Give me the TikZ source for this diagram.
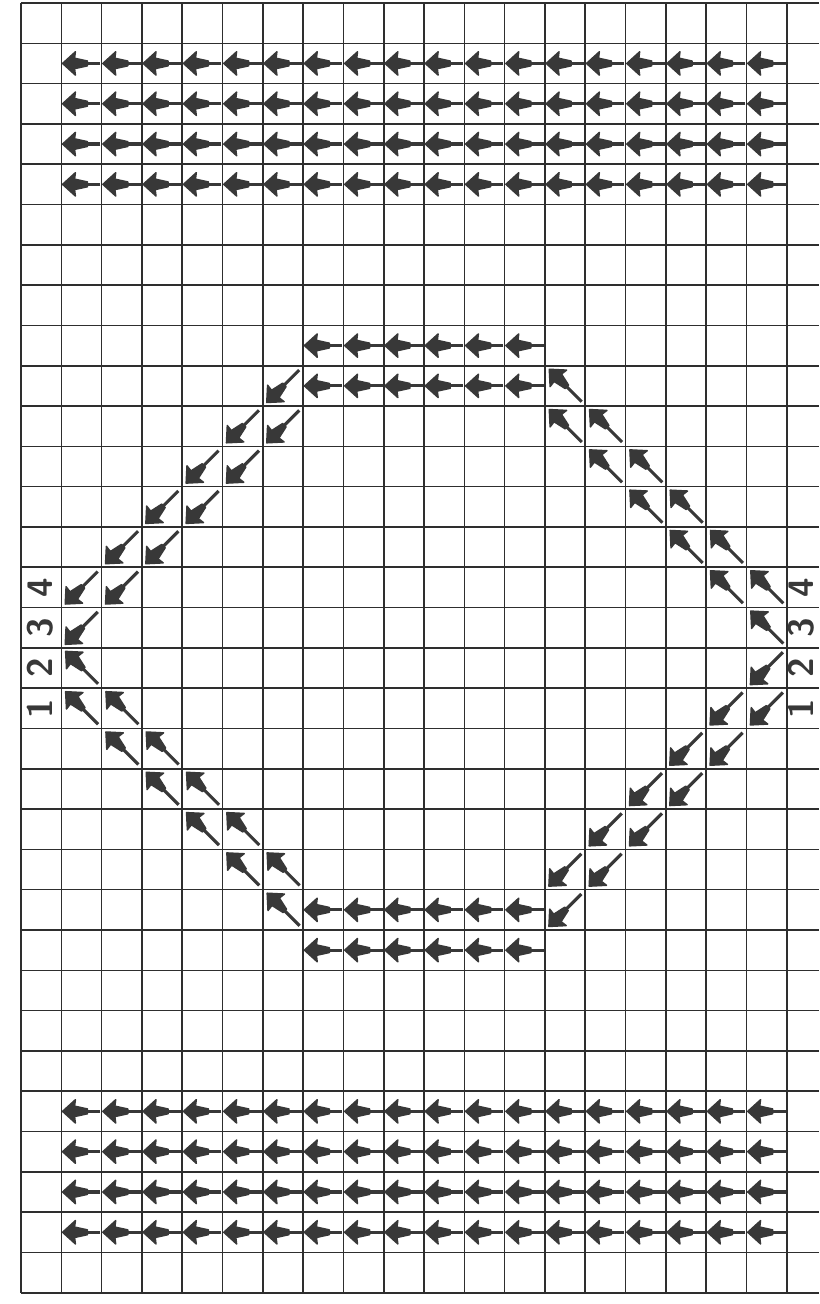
\documentclass[tikz,border=0pt]{standalone}
\usepackage{tikz}
\definecolor{ink}{HTML}{383838}
\definecolor{rule}{HTML}{2e2e2e}
% one dart: centre x, centre y, angle, half length
\newcommand{\flowdart}[4]{%
  \begin{scope}[shift={({#1},{#2})}, rotate=#3]
    \draw[shaft] (#4,0) -- ({-#4+0.5},0);
    \fill[head] (-#4,0) -- ({-#4+0.32},0.29) -- ({-#4+0.3},0.13) -- ({-#4+0.62},0.06)
      -- ({-#4+0.62},-0.06) -- ({-#4+0.3},-0.13) -- ({-#4+0.32},-0.29) -- cycle;
  \end{scope}}
% one dart per grid cell (column, row); rows count downwards
\newcommand{\cellW}[2]{\flowdart{#1+0.5}{-(#2)-0.5}{0}{0.47}}
\newcommand{\cellSW}[2]{\flowdart{#1+0.5}{-(#2)-0.51}{45}{0.57}}
\newcommand{\cellNW}[2]{\flowdart{#1+0.51}{-(#2)-0.49}{-45}{0.57}}

\begin{document}
\begin{tikzpicture}[
  gridline/.style={draw=rule, line width=1.1pt},
  shaft/.style={draw=ink, line width=2.2pt},
  head/.style={fill=ink, draw=ink, line width=1pt, line join=round},
  num/.style={text=ink, font=\sffamily\bfseries\fontsize{25}{25}\selectfont, rotate=90, inner sep=0pt}
]
  \def\ncol{19}\def\nrow{32}
  \useasboundingbox[fill=white] (-0.521,0.074) rectangle (19.80,-32.28);

  % graph paper
  \foreach \c in {0,...,\ncol} \draw[gridline] (\c,0) -- (\c,-\nrow);
  \foreach \r in {0,...,\nrow} \draw[gridline] (0,-\r) -- (19.8,-\r);

  % uniform flow, top and bottom bands
  \foreach \r in {1,...,4,27,28,29,30}
    \foreach \c in {1,...,18} \cellW{\c}{\r};

  % straight parts of the loop
  \foreach \r in {8,9,22,23}
    \foreach \c in {7,...,12} \cellW{\c}{\r};

  % slanted parts of the loop
  \foreach \k in {0,...,5} {
    \cellSW{6-\k}{9+\k}   \cellSW{6-\k}{10+\k}
    \cellNW{1+\k}{16+\k}  \cellNW{1+\k}{17+\k}
    \cellNW{13+\k}{9+\k}  \cellNW{13+\k}{10+\k}
    \cellSW{18-\k}{16+\k} \cellSW{18-\k}{17+\k}
  }

  % row numbers on both edges
  \foreach \n in {1,...,4} {
    \node[num] (L\n) at (0.47,\n-18.5) {\n};
    \node[num] (R\n) at (19.35,\n-18.5) {\n};
  }
\end{tikzpicture}
\end{document}
